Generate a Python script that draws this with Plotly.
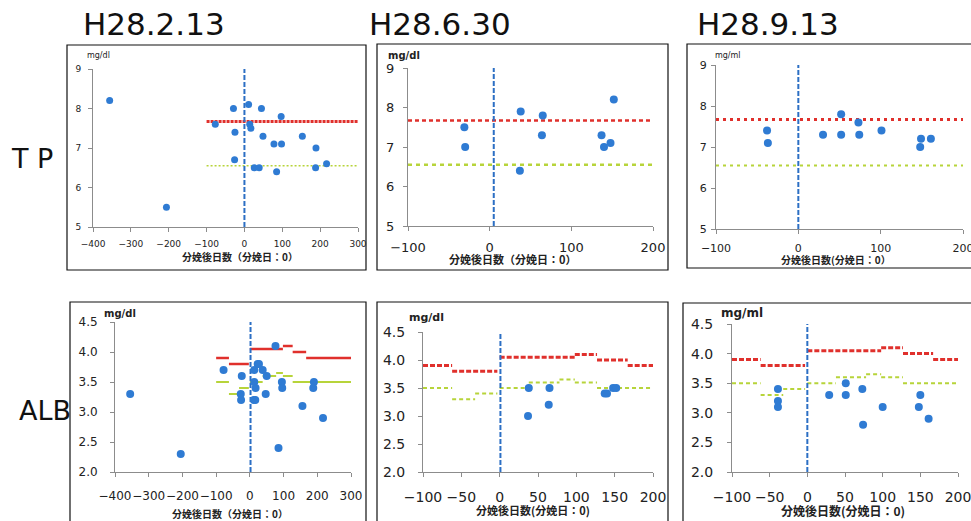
import plotly.graph_objects as go

W, H = 971, 521

# ---------------- data ----------------
dates = ["H28.2.13", "H28.6.30", "H28.9.13"]
row_labels = ["T P", "ALB"]
units_tp = ["mg/dl", "mg/dl", "mg/ml"]
units_alb = ["mg/dl", "mg/dl", "mg/ml"]
xtitles = ["分娩後日数（分娩日：0）", "分娩後日数（分娩日：0）", "分娩後日数(分娩日：0）",
           "分娩後日数（分娩日：0）", "分娩後日数(分娩日：0)", "分娩後日数(分娩日：0)"]

tp1_x = [-356, -206, -77, -29, -25, -26, 11, 14, 17, 45, 49, 26, 39, 78, 97, 98, 85, 153, 189, 188, 217]
tp1_y = [8.2, 5.5, 7.6, 8.0, 7.4, 6.7, 8.1, 7.6, 7.5, 8.0, 7.3, 6.5, 6.5, 7.1, 7.8, 7.1, 6.4, 7.3, 7.0, 6.5, 6.6]

tp2_x = [-31, -30, 38, 37, 65, 64, 137, 140, 148, 152]
tp2_y = [7.5, 7.0, 7.9, 6.4, 7.8, 7.3, 7.3, 7.0, 7.1, 8.2]

tp3_x = [-38, -37, 30, 52, 52, 73, 74, 101, 148, 149, 161]
tp3_y = [7.4, 7.1, 7.3, 7.8, 7.3, 7.6, 7.3, 7.4, 7.0, 7.2, 7.2]

alb1_x = [-355, -205, -78, -24, -27, -26, 13, 23, 27, 38, 50, 13, 17, 12, 16, 47, 76, 95, 96, 85, 156, 190, 188, 217]
alb1_y = [3.3, 2.3, 3.7, 3.6, 3.3, 3.2, 3.7, 3.8, 3.8, 3.7, 3.6, 3.5, 3.4, 3.2, 3.2, 3.3, 4.1, 3.5, 3.4, 2.4, 3.1, 3.5, 3.4, 2.9]

alb2_x = [37, 38, 64, 65, 137, 140, 148, 152]
alb2_y = [3.0, 3.5, 3.2, 3.5, 3.4, 3.4, 3.5, 3.5]

alb3_x = [-39, -39, -39, 29, 51, 51, 73, 74, 100, 148, 150, 161]
alb3_y = [3.4, 3.2, 3.1, 3.3, 3.5, 3.3, 3.4, 2.8, 3.1, 3.1, 3.3, 2.9]

# reference ranges
tp_upper = 7.67
tp_lower = 6.55
tp_ref_start = -100
tp_ref_end = [310, 205, 205]

alb_upper_x0 = [-100, -62, 0, 98, 127, 167]
alb_upper_x1 = [-62, -3, 98, 127, 167, 205]
alb_upper_y = [3.9, 3.8, 4.05, 4.1, 4.0, 3.9]
alb_lower_x0 = [-100, -62, -32, 0, 38, 78, 98, 127]
alb_lower_x1 = [-62, -32, -3, 38, 78, 98, 127, 205]
alb_lower_y = [3.5, 3.3, 3.4, 3.5, 3.6, 3.65, 3.6, 3.5]
alb_ref_end = [310, 205, 205]

# calving-day marker (x position as drawn in each panel)
calving_x = [0, 5, 0, 2, 1, 0]

tp_ticks_x = [[-400, -300, -200, -100, 0, 100, 200, 300], [-100, 0, 100, 200], [-100, 0, 100, 200]]
tp_ticks_y = [5, 6, 7, 8, 9]
alb_ticks_x = [[-400, -300, -200, -100, 0, 100, 200, 300],
               [-100, -50, 0, 50, 100, 150, 200], [-100, -50, 0, 50, 100, 150, 200]]
alb_ticks_y = [2.0, 2.5, 3.0, 3.5, 4.0, 4.5]

# ---------------- styling / layout ----------------
BLUE = "#2f7bd3"
VBLUE = "#2c6fc4"
RED = "#e0302c"
GREEN = "#b7d43a"
AXC = "#8c8c8c"
TICKFONT = "DejaVu Sans"
JP = "Noto Sans CJK JP"

# plot-area rectangles (pixels): x0, x1, y0(top), y1(bottom)
areas = [
    (93, 358, 69, 227),
    (408, 653, 68, 226),
    (716, 963, 65, 229),
    (115, 351, 322, 472),
    (423, 653, 332, 472),
    (732, 958, 324, 472),
]
boxes = [
    (67, 366, 45, 270),
    (377, 668, 44, 270),
    (687, 980, 44, 268),
    (70, 366, 302, 530),
    (377, 668, 302, 530),
    (683, 980, 303, 530),
]
tick_sizes = [9, 13, 11, 12, 14, 14]
x_standoff = [4, 5, 5, 9, 8, 8]
y_standoff = [5, 6, 2, 10, 10, 11]
marker_sizes = [7, 8, 8, 8, 8, 8]
unit_pos = [(85, 56, 8, False), (386, 55, 10, True), (713, 56, 8, False),
            (102, 313, 10, True), (407, 317, 11, True), (719, 313, 12, True)]
xtitle_pos = [(240, 257, 10), (513, 259, 11), (836, 259, 10),
              (230, 513, 10), (533, 510, 11), (843, 510, 12)]


def fx(p):
    return p / W


def fy(p):
    return 1 - p / H


fig = go.Figure()

xs_all = [tp1_x, tp2_x, tp3_x, alb1_x, alb2_x, alb3_x]
ys_all = [tp1_y, tp2_y, tp3_y, alb1_y, alb2_y, alb3_y]

shapes = []
annotations = []
layout_axes = {}

for i in range(6):
    n = i + 1
    xa = "x" if n == 1 else f"x{n}"
    ya = "y" if n == 1 else f"y{n}"
    col = i % 3
    is_tp = i < 3
    x0, x1, y0, y1 = areas[i]

    # reference lines
    if is_tp:
        end = tp_ref_end[col]
        if col == 0:
            rstyle = dict(color=RED, width=3, dash="3px,1px")
            gstyle = dict(color=GREEN, width=1.5, dash="2px,2px")
        elif col == 1:
            rstyle = dict(color=RED, width=2.5, dash="4px,3px")
            gstyle = dict(color=GREEN, width=2.5, dash="4px,4px")
        else:
            rstyle = dict(color=RED, width=3, dash="3px,4px")
            gstyle = dict(color=GREEN, width=2, dash="3px,4px")
        fig.add_trace(go.Scatter(x=[tp_ref_start, end], y=[tp_upper, tp_upper], mode="lines",
                                 line=rstyle, xaxis=xa, yaxis=ya, hoverinfo="skip"))
        fig.add_trace(go.Scatter(x=[tp_ref_start, end], y=[tp_lower, tp_lower], mode="lines",
                                 line=gstyle, xaxis=xa, yaxis=ya, hoverinfo="skip"))
        vy = [5, 9]
    else:
        end = alb_ref_end[col]
        if col == 0:
            rstyle = dict(color=RED, width=2.5)
            gstyle = dict(color=GREEN, width=2)
        else:
            rstyle = dict(color=RED, width=3, dash="5px,2px")
            gstyle = dict(color=GREEN, width=2, dash="4px,3px")
        ux, uy = [], []
        for a, b, v in zip(alb_upper_x0, alb_upper_x1, alb_upper_y):
            bb = end if b == alb_upper_x1[-1] else b
            ux += [a, bb, None]
            uy += [v, v, None]
        lx, ly = [], []
        for a, b, v in zip(alb_lower_x0, alb_lower_x1, alb_lower_y):
            bb = end if b == alb_lower_x1[-1] else b
            lx += [a, bb, None]
            ly += [v, v, None]
        fig.add_trace(go.Scatter(x=ux, y=uy, mode="lines", line=rstyle,
                                 xaxis=xa, yaxis=ya, hoverinfo="skip"))
        fig.add_trace(go.Scatter(x=lx, y=ly, mode="lines", line=gstyle,
                                 xaxis=xa, yaxis=ya, hoverinfo="skip"))
        vy = [2.0, 4.56]

    # calving day line
    fig.add_trace(go.Scatter(x=[calving_x[i], calving_x[i]], y=vy, mode="lines",
                             line=dict(color=VBLUE, width=2, dash="5px,2px"),
                             xaxis=xa, yaxis=ya, hoverinfo="skip"))

    # points
    fig.add_trace(go.Scatter(x=xs_all[i], y=ys_all[i], mode="markers",
                             marker=dict(color=BLUE, size=marker_sizes[i]),
                             xaxis=xa, yaxis=ya, cliponaxis=False))

    if is_tp:
        tvx = tp_ticks_x[col]
        tvy = tp_ticks_y
        yr = [5, 9]
        yfmt = "d"
    else:
        tvx = alb_ticks_x[col]
        tvy = alb_ticks_y
        yr = [2.0, 4.5]
        yfmt = ".1f"
    xr = [tvx[0], tvx[-1]]

    axcommon = dict(showgrid=False, zeroline=False, showline=True, linecolor=AXC,
                    linewidth=1, ticks="outside", ticklen=4, tickcolor=AXC,
                    automargin=False, tickangle=0, ticklabeloverflow="allow",
                    tickfont=dict(family=TICKFONT, size=tick_sizes[i], color="#222"))
    layout_axes["xaxis" if n == 1 else f"xaxis{n}"] = dict(
        axcommon, domain=[fx(x0), fx(x1)], anchor=ya, range=xr, tickvals=tvx,
        ticklabelstandoff=x_standoff[i])
    layout_axes["yaxis" if n == 1 else f"yaxis{n}"] = dict(
        axcommon, domain=[fy(y1), fy(y0)], anchor=xa, range=yr, tickvals=tvy,
        tickformat=yfmt, ticklabelstandoff=y_standoff[i])

    bx0, bx1, by0, by1 = boxes[i]
    shapes.append(dict(type="rect", xref="paper", yref="paper",
                       x0=fx(bx0), x1=fx(bx1), y0=fy(by1), y1=fy(by0),
                       line=dict(color="#111", width=1.2), fillcolor="rgba(0,0,0,0)",
                       layer="below"))

    ux_, uy_, us_, ub_ = unit_pos[i]
    utext = (units_tp if is_tp else units_alb)[col]
    annotations.append(dict(xref="paper", yref="paper", x=fx(ux_), y=fy(uy_),
                            xanchor="left", yanchor="middle", showarrow=False,
                            text=f"<b>{utext}</b>" if ub_ else utext,
                            font=dict(family=TICKFONT, size=us_, color="#222")))
    tx, ty, ts = xtitle_pos[i]
    annotations.append(dict(xref="paper", yref="paper", x=fx(tx), y=fy(ty),
                            xanchor="center", yanchor="middle", showarrow=False,
                            text=f"<b>{xtitles[i]}</b>",
                            font=dict(family=JP, size=ts, color="#222")))

# column titles
title_x = [154, 440, 768]
for c in range(3):
    annotations.append(dict(xref="paper", yref="paper", x=fx(title_x[c]), y=fy(24),
                            xanchor="center", yanchor="middle", showarrow=False,
                            text=dates[c],
                            font=dict(family="DejaVu Sans", size=31, color="#111")))
# row labels
annotations.append(dict(xref="paper", yref="paper", x=fx(32), y=fy(158),
                        xanchor="center", yanchor="middle", showarrow=False,
                        text=row_labels[0],
                        font=dict(family="DejaVu Sans", size=27, color="#111")))
annotations.append(dict(xref="paper", yref="paper", x=fx(45), y=fy(410),
                        xanchor="center", yanchor="middle", showarrow=False,
                        text=row_labels[1],
                        font=dict(family="DejaVu Sans", size=27, color="#111")))

fig.update_layout(width=W, height=H, margin=dict(l=0, r=0, t=0, b=0),
                  paper_bgcolor="white", plot_bgcolor="white", showlegend=False,
                  shapes=shapes, annotations=annotations, **layout_axes)

fig.write_html("out.html", config={"displayModeBar": False},
               post_script="document.body.style.margin='0';document.body.style.overflow='hidden';")
